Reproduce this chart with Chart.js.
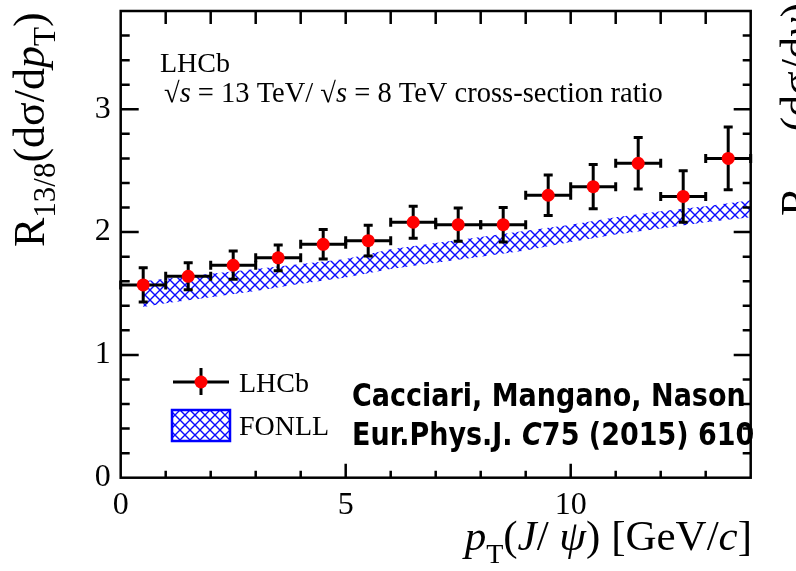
<!DOCTYPE html>
<html>
<head>
<meta charset="utf-8">
<script src="https://cdn.jsdelivr.net/npm/chart.js@4.4.0/dist/chart.umd.min.js"></script>
<style>
  html, body { margin: 0; padding: 0; background: #fff; }
</style>
</head>
<body>
<canvas id="ratioChart" width="796" height="571"></canvas>

<script>
// LHCb J/psi cross-section ratio 13 TeV / 8 TeV, 1 GeV/c bins
const binCentres   = [0.5, 1.5, 2.5, 3.5, 4.5, 5.5, 6.5, 7.5, 8.5, 9.5, 10.5, 11.5, 12.5, 13.5];
const binHalfWidth = [0.5, 0.5, 0.5, 0.5, 0.5, 0.5, 0.5, 0.5, 0.5, 0.5, 0.5, 0.5, 0.5, 0.5];
const ratio        = [1.57, 1.64, 1.73, 1.79, 1.90, 1.93, 2.08, 2.06, 2.06, 2.30, 2.37, 2.56, 2.29, 2.60];
const ratioErr     = [0.14, 0.11, 0.115, 0.105, 0.12, 0.125, 0.13, 0.135, 0.14, 0.165, 0.18, 0.21, 0.21, 0.255];

// FONLL prediction band
const fonllPt   = [0.5, 1, 2, 3, 4, 5, 6, 7, 8, 9, 10, 11, 12, 13, 14];
const fonllLow  = [1.39, 1.42, 1.47, 1.52, 1.58, 1.63, 1.70, 1.75, 1.80, 1.85, 1.92, 1.98, 2.03, 2.08, 2.12];
const fonllHigh = [1.60, 1.62, 1.66, 1.70, 1.74, 1.78, 1.86, 1.91, 1.96, 2.01, 2.06, 2.12, 2.17, 2.21, 2.26];

const xTickLabels = [0, 5, 10];
const yTickLabels = [0, 1, 2, 3];

const SERIF = '"Liberation Serif", "Times New Roman", serif';

function hatchPattern() {
  const c = document.createElement('canvas');
  c.width = c.height = 10;
  const g = c.getContext('2d');
  g.strokeStyle = '#0a0aff';
  g.lineWidth = 1.4;
  g.beginPath();
  g.moveTo(-1, -1); g.lineTo(11, 11);
  g.moveTo(11, -1); g.lineTo(-1, 11);
  g.stroke();
  return g.createPattern(c, 'repeat');
}
const hatch = hatchPattern();

// text made of pieces with their own font and baseline shift
function drawRich(ctx, parts, x, y, align) {
  let w = 0;
  parts.forEach(p => { ctx.font = p[1]; w += ctx.measureText(p[0]).width; });
  let cx = align === 'right' ? x - w : x;
  parts.forEach(p => {
    ctx.font = p[1];
    ctx.fillText(p[0], cx, y + (p[2] || 0));
    cx += ctx.measureText(p[0]).width;
  });
}

const errorBars = {
  id: 'errorBars',
  beforeDatasetDraw(chart, args) {
    if (args.index !== 0) return;
    const {ctx, scales: {x, y}} = chart;
    ctx.save();
    ctx.strokeStyle = '#000';
    ctx.lineWidth = 3;
    const cap = 4.5;
    binCentres.forEach((c, i) => {
      const px = x.getPixelForValue(c), py = y.getPixelForValue(ratio[i]);
      const xl = x.getPixelForValue(c - binHalfWidth[i]), xr = x.getPixelForValue(c + binHalfWidth[i]);
      const yl = y.getPixelForValue(ratio[i] - ratioErr[i]), yh = y.getPixelForValue(ratio[i] + ratioErr[i]);
      ctx.beginPath();
      ctx.moveTo(xl, py); ctx.lineTo(xr, py);
      ctx.moveTo(px, yl); ctx.lineTo(px, yh);
      ctx.moveTo(xl, py - cap); ctx.lineTo(xl, py + cap);
      ctx.moveTo(xr, py - cap); ctx.lineTo(xr, py + cap);
      ctx.moveTo(px - cap, yl); ctx.lineTo(px + cap, yl);
      ctx.moveTo(px - cap, yh); ctx.lineTo(px + cap, yh);
      ctx.stroke();
    });
    ctx.restore();
  }
};

const frame = {
  id: 'frame',
  afterDraw(chart) {
    const {ctx, chartArea: a, scales: {x, y}} = chart;
    ctx.save();
    ctx.strokeStyle = '#000';
    ctx.lineWidth = 2.5;
    ctx.strokeRect(a.left, a.top, a.right - a.left, a.bottom - a.top);
    ctx.beginPath();
    for (let v = 1; v < 14; v++) {
      const px = x.getPixelForValue(v);
      const major = v % 5 === 0;
      ctx.moveTo(px, a.bottom); ctx.lineTo(px, a.bottom - (major ? 14 : 7));
      ctx.moveTo(px, a.top); ctx.lineTo(px, a.top + 13);
    }
    for (let k = 1; k < 19; k++) {
      const v = k * 0.2;
      const py = y.getPixelForValue(v);
      const major = k % 5 === 0;
      ctx.moveTo(a.left, py); ctx.lineTo(a.left + (major ? 18 : 9), py);
      ctx.moveTo(a.right, py); ctx.lineTo(a.right - (major ? 17 : 8), py);
    }
    ctx.stroke();
    ctx.restore();
  }
};

const labels = {
  id: 'labels',
  afterDraw(chart) {
    const ctx = chart.ctx;
    ctx.save();
    ctx.fillStyle = '#000';
    ctx.textBaseline = 'alphabetic';

    // header
    ctx.font = '28px ' + SERIF;
    ctx.fillText('LHCb', 160, 72);
    drawRich(ctx, [
      ['\u221A', '28.5px ' + SERIF], ['s', 'italic 28.5px ' + SERIF],
      [' = 13 TeV/ ', '28.5px ' + SERIF],
      ['\u221A', '28.5px ' + SERIF], ['s', 'italic 28.5px ' + SERIF],
      [' = 8 TeV cross-section ratio', '28.5px ' + SERIF]
    ], 164, 102);

    // legend
    ctx.strokeStyle = '#000';
    ctx.lineWidth = 3;
    ctx.beginPath();
    ctx.moveTo(173, 382); ctx.lineTo(229, 382);
    ctx.moveTo(201, 368); ctx.lineTo(201, 395);
    ctx.stroke();
    ctx.fillStyle = '#ff0000';
    ctx.beginPath(); ctx.arc(201, 382, 6.5, 0, Math.PI * 2); ctx.fill();
    ctx.fillStyle = hatch;
    ctx.fillRect(172, 410, 58, 31);
    ctx.strokeStyle = '#0000ff';
    ctx.lineWidth = 2.5;
    ctx.strokeRect(172, 410, 58, 31);
    ctx.fillStyle = '#000';
    ctx.font = '28px ' + SERIF;
    ctx.fillText('LHCb', 239, 392);
    ctx.fillText('FONLL', 239, 435);

    // reference
    ctx.save();
    ctx.translate(352, 406);
    ctx.scale(1, 1.15);
    ctx.font = 'bold 27px "DejaVu Sans"';
    ctx.fillText('Cacciari, Mangano, Nason', 0, 0);
    ctx.restore();
    ctx.save();
    ctx.translate(352, 445);
    ctx.scale(1, 1.15);
    drawRich(ctx, [
      ['Eur.Phys.J. ', 'bold 27px "DejaVu Sans"'],
      ['C', 'bold italic 27px "DejaVu Sans"'],
      ['75 (2015) 610', 'bold 27px "DejaVu Sans"']
    ], 0, 0);
    ctx.restore();

    // axis titles
    drawRich(ctx, [
      ['p', 'italic 43px ' + SERIF], ['T', '28px ' + SERIF, 13],
      ['(', '43px ' + SERIF], ['J', 'italic 43px ' + SERIF], ['/ ', '43px ' + SERIF],
      ['\u03C8', 'italic 43px ' + SERIF], [') [GeV/', '43px ' + SERIF],
      ['c', 'italic 43px ' + SERIF], [']', '43px ' + SERIF]
    ], 752, 550, 'right');

    ctx.save();
    ctx.translate(44, 247);
    ctx.rotate(-Math.PI / 2);
    drawRich(ctx, [
      ['R', '44px ' + SERIF], ['13/8', '31px ' + SERIF, 11],
      ['(d\u03C3/d', '44px ' + SERIF], ['p', 'italic 44px ' + SERIF],
      ['T', '31px ' + SERIF, 11], [')', '44px ' + SERIF]
    ], 0, 0);
    ctx.restore();

    // neighbouring panel title, mostly off the canvas
    ctx.save();
    ctx.translate(811, 216);
    ctx.rotate(-Math.PI / 2);
    drawRich(ctx, [
      ['R', '44px ' + SERIF], ['13/8', '31px ' + SERIF, 11],
      ['(d\u03C3/d', '44px ' + SERIF], ['y', 'italic 44px ' + SERIF], [')', '44px ' + SERIF]
    ], 0, 0);
    ctx.restore();

    ctx.restore();
  }
};

new Chart(document.getElementById('ratioChart'), {
  type: 'line',
  data: {
    datasets: [
      {
        label: 'LHCb',
        data: binCentres.map((c, i) => ({x: c, y: ratio[i]})),
        showLine: false,
        pointRadius: 6.5,
        pointBackgroundColor: '#ff0000',
        pointBorderWidth: 0
      },
      {
        label: 'FONLL',
        data: fonllPt.map((p, i) => ({x: p, y: fonllHigh[i]})),
        borderWidth: 0,
        pointRadius: 0,
        backgroundColor: hatch,
        fill: '+1',
        tension: 0
      },
      {
        label: 'FONLL low',
        data: fonllPt.map((p, i) => ({x: p, y: fonllLow[i]})),
        borderWidth: 0,
        pointRadius: 0,
        fill: false,
        tension: 0
      }
    ]
  },
  options: {
    responsive: false,
    animation: false,
    layout: { padding: { top: 11, right: 45.3, left: 0, bottom: 0 } },
    plugins: { legend: { display: false }, tooltip: { enabled: false } },
    scales: {
      x: {
        type: 'linear', min: 0, max: 14,
        afterFit: s => { s.height = 93.3; s.paddingLeft = 0; s.paddingRight = 0; },
        afterBuildTicks: s => { s.ticks = xTickLabels.map(v => ({value: v})); },
        grid: { display: false, drawTicks: false },
        border: { display: false },
        ticks: { color: '#000', font: { family: SERIF, size: 32 }, padding: 9, maxRotation: 0, autoSkip: false }
      },
      y: {
        type: 'linear', min: 0, max: 3.8,
        afterFit: s => { s.width = 120.7; s.paddingTop = 0; s.paddingBottom = 0; },
        afterBuildTicks: s => { s.ticks = yTickLabels.map(v => ({value: v})); },
        grid: { display: false, drawTicks: false },
        border: { display: false },
        ticks: { color: '#000', font: { family: SERIF, size: 32 }, padding: 10, autoSkip: false }
      }
    }
  },
  plugins: [errorBars, frame, labels]
});
</script>
</body>
</html>
